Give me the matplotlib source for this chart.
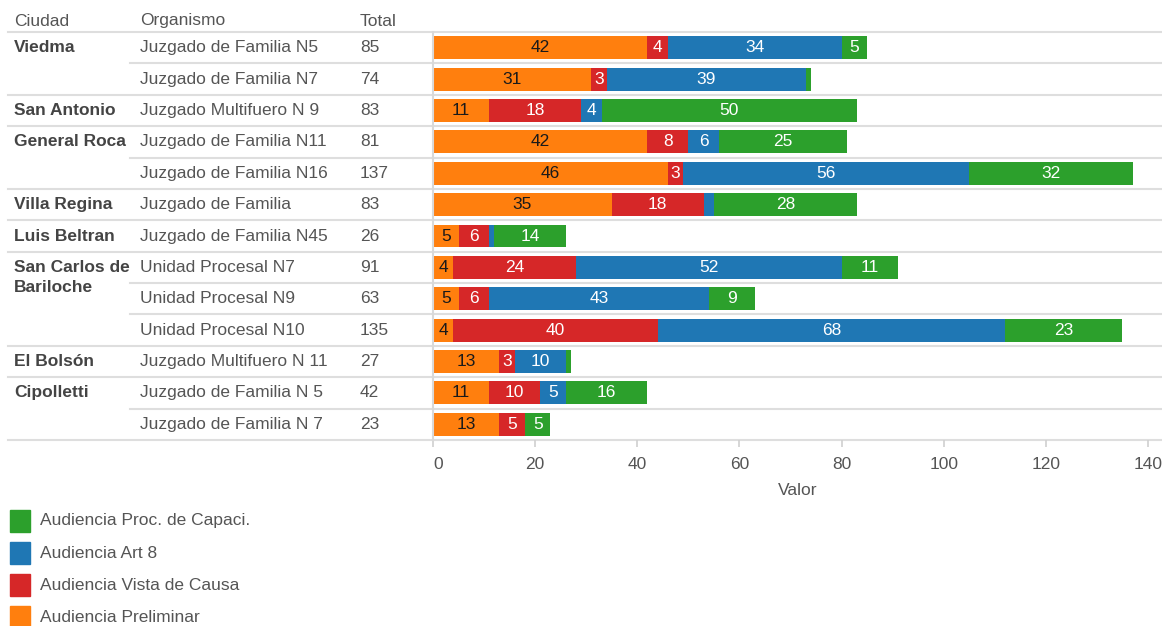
import matplotlib.pyplot as plt
import matplotlib.transforms as mtransforms
import numpy as np

plt.rcParams['font.family'] = ['Liberation Sans', 'DejaVu Sans']

ciudades = ['Viedma', '', 'San Antonio', 'General Roca', '', 'Villa Regina', 'Luis Beltran',
            'San Carlos de\nBariloche', '', '', 'El Bolsón', 'Cipolletti', '']
organismos = ['Juzgado de Familia N5', 'Juzgado de Familia N7', 'Juzgado Multifuero N 9',
              'Juzgado de Familia N11', 'Juzgado de Familia N16', 'Juzgado de Familia',
              'Juzgado de Familia N45', 'Unidad Procesal N7', 'Unidad Procesal N9',
              'Unidad Procesal N10', 'Juzgado Multifuero N 11', 'Juzgado de Familia N 5',
              'Juzgado de Familia N 7']
preliminar = [42, 31, 11, 42, 46, 35, 5, 4, 5, 4, 13, 11, 13]
vista_causa = [4, 3, 18, 8, 3, 18, 6, 24, 6, 40, 3, 10, 5]
art8 = [34, 39, 4, 6, 56, 2, 1, 52, 43, 68, 10, 5, 0]
capaci = [5, 1, 50, 25, 32, 28, 14, 11, 9, 23, 1, 16, 5]
totales = [85, 74, 83, 81, 137, 83, 26, 91, 63, 135, 27, 42, 23]

series = [('Audiencia Preliminar', preliminar, '#ff7f0e', '#1a1a1a'),
          ('Audiencia Vista de Causa', vista_causa, '#d62728', 'white'),
          ('Audiencia Art 8', art8, '#1f77b4', 'white'),
          ('Audiencia Proc. de Capaci.', capaci, '#2ca02c', 'white')]

W, H = 1162, 626
FS = 12.5
fig = plt.figure(figsize=(W / 100, H / 100), dpi=100)
x0, x1, ytop, ybot = 433, 1162, 32, 440
ax = fig.add_axes([x0 / W, 1 - ybot / H, (x1 - x0) / W, (ybot - ytop) / H])

n = len(organismos)
y = np.arange(n)
left = np.zeros(n)
for name, vals, col, tcol in series:
    vals = np.array(vals)
    ax.barh(y, vals, left=left, height=0.73, color=col, linewidth=0)
    for i, v in enumerate(vals):
        if v >= 3:
            ax.text(left[i] + v / 2, i, str(v), ha='center', va='center', color=tcol, fontsize=FS)
    left += vals

ax.set_xlim(0, (x1 - x0) / 5.107)
ax.set_ylim(n - 0.5, -0.5)
ax.set_xticks(range(0, 141, 20))
ax.set_yticks([])
for s in ['top', 'right', 'bottom']:
    ax.spines[s].set_visible(False)
ax.spines['left'].set_color('#d9d9d9')
ax.spines['left'].set_linewidth(1.5)
ax.tick_params(axis='x', colors='#d0d0d0', labelcolor='#555555', labelsize=FS, length=5,
               width=1.2, pad=7)
ax.get_xticklabels()[0].set_horizontalalignment('left')
ax.set_xlabel('Valor', fontsize=FS, color='#555555', labelpad=8)

tr = mtransforms.blended_transform_factory(fig.transFigure, ax.transData)
gray = '#555555'
fig.text(14 / W, 1 - 21 / H, 'Ciudad', fontsize=FS, color=gray, va='center')
fig.text(140 / W, 1 - 21 / H, 'Organismo', fontsize=FS, color=gray, va='center')
fig.text(360 / W, 1 - 21 / H, 'Total', fontsize=FS, color=gray, va='center')

row_px = (ybot - ytop) / n
for i in range(n):
    if ciudades[i]:
        for k, linea in enumerate(ciudades[i].split('\n')):
            ax.text(14 / W, i + k * 20 / row_px, linea, transform=tr, fontsize=FS,
                    color='#444444', fontweight='bold', va='center')
    ax.text(140 / W, i, organismos[i], transform=tr, fontsize=FS, color=gray, va='center')
    ax.text(360 / W, i, str(totales[i]), transform=tr, fontsize=FS, color=gray, va='center')

# separadores de filas
for b in range(n + 1):
    yb = b - 0.5
    start = 8 / W if (b == 0 or b == n or ciudades[b]) else 130 / W
    ax.plot([start, 1], [yb, yb], transform=tr, color='#dedede', lw=1.5, clip_on=False, zorder=0)

# leyenda
for k, (name, vals, col, tcol) in enumerate(reversed(series)):
    yc = 521 + 32 * k
    fig.patches.append(plt.Rectangle((10 / W, 1 - (yc + 11) / H), 20 / W, 22 / H,
                                     transform=fig.transFigure, color=col))
    fig.text(40 / W, 1 - yc / H, name, fontsize=FS, color=gray, va='center')

fig.savefig('out.png', dpi=100)
